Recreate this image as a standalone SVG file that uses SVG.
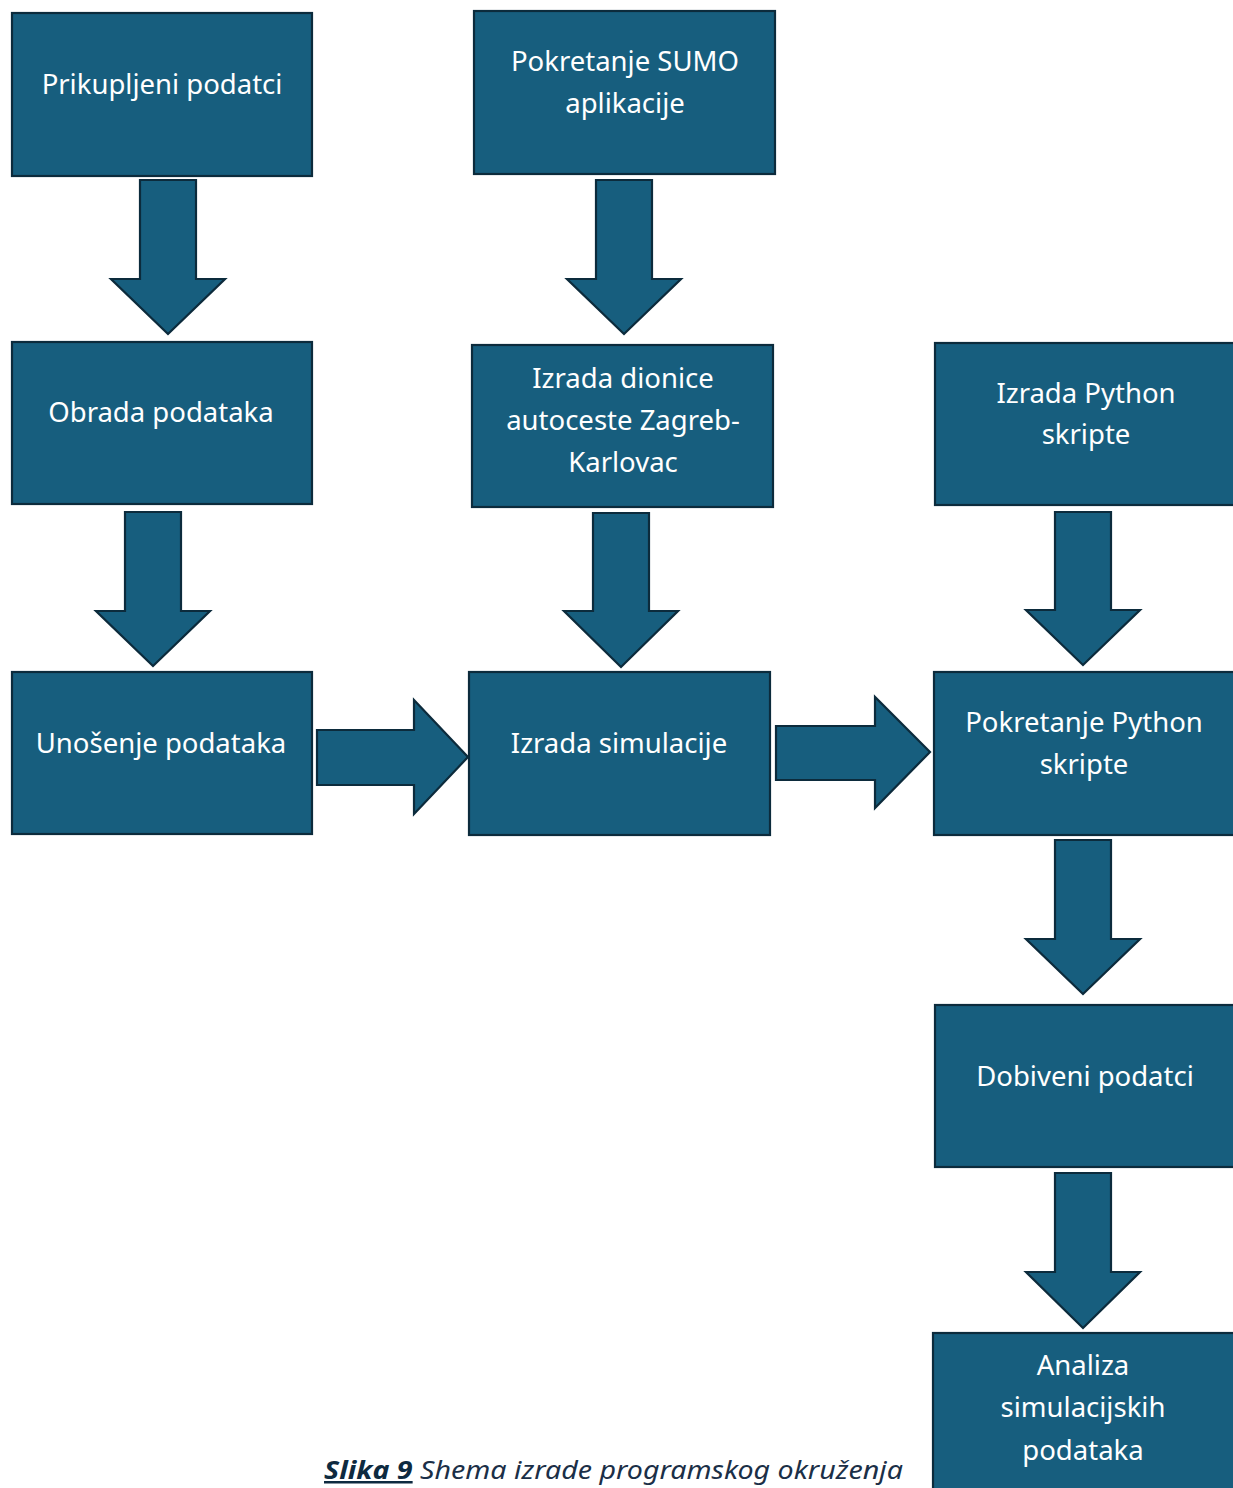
<svg xmlns="http://www.w3.org/2000/svg" width="1233" height="1488" viewBox="0 0 1233 1488">
<style>
.box{fill:#175e7e;stroke:#0c2b3c;stroke-width:2.2}
.arr{fill:#175e7e;stroke:#0c2b3c;stroke-width:2.2;stroke-linejoin:miter}
.t{font-family:"Noto Sans","Open Sans",sans-serif;font-size:27.5px;fill:#ffffff;text-anchor:middle}
.cap{font-family:"Noto Sans","Open Sans",sans-serif;font-size:25px;font-style:italic;fill:#1b2f47}
</style>
<rect width="1233" height="1488" fill="#ffffff"/>
<g id="connectors">
<path class="arr" d="M140,180 H196 V279 H225 L168,334 L111,279 H140 Z"/>
<path class="arr" d="M596,180 H652 V279 H681 L624,334 L567,279 H596 Z"/>
<path class="arr" d="M125,512 H181 V611 H210 L153,666 L96,611 H125 Z"/>
<path class="arr" d="M593,513 H649 V611 H678 L621,667 L564,611 H593 Z"/>
<path class="arr" d="M1055,512 H1111 V610 H1140 L1083,665 L1026,610 H1055 Z"/>
<path class="arr" d="M317,730 H414 V700 L468,757 L414,814 V785 H317 Z"/>
<path class="arr" d="M776,726 H875 V697 L930,752 L875,808 V780 H776 Z"/>
<path class="arr" d="M1055,840 H1111 V939 H1140 L1083,994 L1026,939 H1055 Z"/>
<path class="arr" d="M1055,1173 H1111 V1272 H1140 L1083,1328 L1026,1272 H1055 Z"/>
</g>
<g id="n1"><rect class="box" x="12" y="13" width="300" height="163"/><text class="t" x="162" y="94">Prikupljeni podatci</text></g>
<g id="n2"><rect class="box" x="474" y="11" width="301" height="163"/><text class="t" x="625" y="71">Pokretanje SUMO</text><text class="t" x="625" y="113">aplikacije</text></g>
<g id="n3"><rect class="box" x="12" y="342" width="300" height="162"/><text class="t" x="161" y="422">Obrada podataka</text></g>
<g id="n4"><rect class="box" x="472" y="345" width="301" height="162"/><text class="t" x="623" y="388">Izrada dionice</text><text class="t" x="623" y="430">autoceste Zagreb-</text><text class="t" x="623" y="472">Karlovac</text></g>
<g id="n5"><rect class="box" x="935" y="343" width="302" height="162"/><text class="t" x="1086" y="403">Izrada Python</text><text class="t" x="1086" y="444">skripte</text></g>
<g id="n6"><rect class="box" x="12" y="672" width="300" height="162"/><text class="t" x="161" y="753">Unošenje podataka</text></g>
<g id="n7"><rect class="box" x="469" y="672" width="301" height="163"/><text class="t" x="619" y="753">Izrada simulacije</text></g>
<g id="n8"><rect class="box" x="934" y="672" width="303" height="163"/><text class="t" x="1084" y="732">Pokretanje Python</text><text class="t" x="1084" y="774">skripte</text></g>
<g id="n9"><rect class="box" x="935" y="1005" width="302" height="162"/><text class="t" x="1085" y="1086">Dobiveni podatci</text></g>
<g id="n10"><rect class="box" x="933" y="1333" width="304" height="170"/><text class="t" x="1083" y="1375">Analiza</text><text class="t" x="1083" y="1417">simulacijskih</text><text class="t" x="1083" y="1460">podataka</text></g>
<text class="cap" x="324" y="1479" textLength="579" lengthAdjust="spacingAndGlyphs"><tspan font-weight="bold" fill="#0e2a40" text-decoration="underline">Slika 9</tspan> Shema izrade programskog okruženja</text>
</svg>
